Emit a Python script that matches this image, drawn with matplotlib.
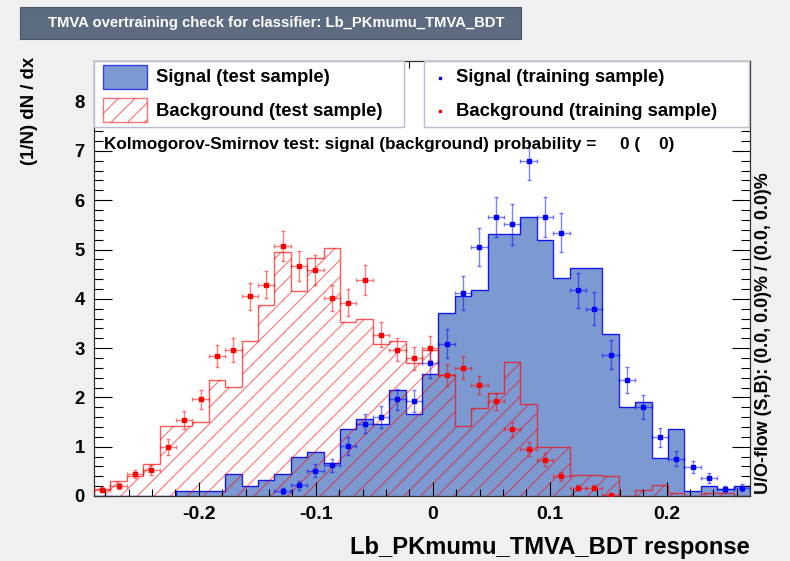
import numpy as np
import matplotlib
matplotlib.use("Agg")
import matplotlib.pyplot as plt
from matplotlib.patches import Rectangle
from matplotlib.ticker import MultipleLocator, FixedLocator, FuncFormatter

plt.rcParams['font.family'] = ['Liberation Sans', 'DejaVu Sans']
plt.rcParams['axes.unicode_minus'] = False
plt.rcParams['hatch.linewidth'] = 0.8

# ---------------- data ----------------
x_low, x_high, n_bins = -0.2895, 0.2712, 40

sig_test = [0, 0, 0, 0, 0, 0.10, 0.10, 0.10, 0.44, 0.21,
            0.33, 0.44, 0.79, 0.90, 0.66, 1.36, 1.57, 1.46, 2.15, 1.67,
            2.48, 3.72, 4.06, 4.17, 5.31, 5.31, 5.65, 5.19, 4.42, 4.63,
            4.63, 3.28, 1.81, 1.91, 0.78, 1.35, 0.10, 0.21, 0.15, 0.21]

bkg_test = [0.15, 0.30, 0.40, 0.64, 1.42, 1.42, 1.50, 2.36, 2.21, 3.15,
            3.88, 4.95, 4.15, 4.82, 5.03, 3.52, 3.59, 3.09, 3.15, 2.69,
            2.96, 2.45, 1.42, 1.79, 2.08, 2.72, 1.86, 1.00, 1.00, 0.42,
            0.42, 0.40, 0.0, 0.12, 0.22, 0.06, 0.0, 0.06, 0.06, 0.0]

sig_train = [0, 0, 0, 0, 0, 0, 0, 0, 0, 0,
             0, 0.10, 0.22, 0.51, 0.62, 1.01, 1.47, 1.60, 1.96, 1.93,
             2.70, 3.09, 4.12, 5.05, 5.66, 5.51, 6.79, 5.66, 5.34, 4.17,
             3.80, 2.87, 2.35, 1.81, 1.19, 0.76, 0.59, 0.37, 0.15, 0.17]
sig_train_err = [0, 0, 0, 0, 0, 0, 0, 0, 0, 0,
                 0, 0.06, 0.09, 0.13, 0.14, 0.18, 0.20, 0.22, 0.22, 0.22,
                 0.30, 0.30, 0.34, 0.39, 0.41, 0.41, 0.38, 0.41, 0.40, 0.36,
                 0.34, 0.29, 0.27, 0.24, 0.19, 0.16, 0.12, 0.10, 0.06, 0.07]

bkg_train = [0.13, 0.20, 0.44, 0.52, 1.00, 1.54, 1.96, 2.84, 2.96, 4.05,
             4.29, 5.07, 4.66, 4.59, 4.02, 3.92, 4.38, 3.27, 2.97, 2.79,
             3.00, 2.46, 2.60, 2.25, 1.92, 1.35, 0.96, 0.74, 0.40, 0.17,
             0.17, 0.02, 0, 0, 0, 0, 0, 0, 0, 0]
bkg_train_err = [0.05, 0.06, 0.08, 0.10, 0.16, 0.18, 0.20, 0.23, 0.24, 0.28,
                 0.28, 0.31, 0.30, 0.30, 0.27, 0.27, 0.30, 0.25, 0.24, 0.23,
                 0.25, 0.22, 0.23, 0.18, 0.17, 0.16, 0.14, 0.13, 0.09, 0.05,
                 0.05, 0.02, 0, 0, 0, 0, 0, 0, 0, 0]

x_major_ticks = [-0.2, -0.1, 0.0, 0.1, 0.2]
y_major_ticks = [0, 1, 2, 3, 4, 5, 6, 7, 8]

title_text = "TMVA overtraining check for classifier: Lb_PKmumu_TMVA_BDT"
xlabel_text = "Lb_PKmumu_TMVA_BDT response"
ylabel_text = "(1/N) dN / dx"
ks_text = "Kolmogorov-Smirnov test: signal (background) probability =     0 (    0)"
uo_text = "U/O-flow (S,B): (0.0, 0.0)% / (0.0, 0.0)%"
leg_labels = ["Signal (test sample)", "Background (test sample)",
              "Signal (training sample)", "Background (training sample)"]

# ---------------- figure ----------------
W, H = 790, 561
fig = plt.figure(figsize=(W / 100, H / 100), dpi=100, facecolor='#f0f0f0')

def fx(px):
    return px / W

def fy(py):
    return 1 - py / H

ax_l, ax_r, ax_t, ax_b = 94, 750, 60.7, 496
ax = fig.add_axes([fx(ax_l), fy(ax_b), fx(ax_r - ax_l), (ax_b - ax_t) / H])
ax.set_facecolor('white')

edges = np.linspace(x_low, x_high, n_bins + 1)
centers = 0.5 * (edges[:-1] + edges[1:])
half = 0.5 * (edges[1] - edges[0])

sig_fill = '#7d99d1'
sig_line = (0, 0, 0.93, 0.85)
red_hatch = (1, 0, 0, 0.55)

ax.stairs(sig_test, edges, fill=True, facecolor=sig_fill, edgecolor='none', zorder=1)
ax.stairs(sig_test, edges, color=sig_line, lw=1.0, zorder=1.1)
ax.stairs(bkg_test, edges, fill=True, facecolor='none', edgecolor=red_hatch,
          hatch='//', lw=0, zorder=1.2)
ax.stairs(bkg_test, edges, color=(1, 0, 0, 0.65), lw=1.0, zorder=1.3)

st = np.array(sig_train); ste = np.array(sig_train_err)
bt = np.array(bkg_train); bte = np.array(bkg_train_err)
ms = st > 0
mb = bt > 0
ax.errorbar(centers[ms], st[ms], yerr=ste[ms], xerr=half, fmt='s', ms=2.6,
            color='#0000ff', ecolor=(0, 0, 1, 0.5), elinewidth=1, capsize=1.5,
            capthick=1, zorder=3)
ax.errorbar(centers[mb], bt[mb], yerr=bte[mb], xerr=half, fmt='s', ms=2.6,
            color='#ff0000', ecolor=(1, 0, 0, 0.5), elinewidth=1, capsize=1.5,
            capthick=1, zorder=3)

ax.set_xlim(x_low, x_high)
ax.set_ylim(0, 8.83)
ax.xaxis.set_major_locator(FixedLocator(x_major_ticks))
ax.xaxis.set_minor_locator(MultipleLocator(0.02))
ax.yaxis.set_major_locator(FixedLocator(y_major_ticks))
ax.yaxis.set_minor_locator(MultipleLocator(0.2))

def fmt(v, pos):
    if abs(v) < 1e-9:
        return '0'
    return '%.1f' % v
ax.xaxis.set_major_formatter(FuncFormatter(fmt))

ax.tick_params(axis='both', which='both', direction='in', top=True, right=True,
               color='black', width=0.8)
ax.tick_params(axis='x', which='major', length=10, pad=7, labelsize=14)
ax.tick_params(axis='x', which='minor', length=5)
ax.tick_params(axis='y', which='major', length=13, pad=6.5, labelsize=13.3)
ax.tick_params(axis='y', which='minor', length=6.5)
for lab in ax.get_xticklabels() + ax.get_yticklabels():
    lab.set_fontweight('bold')
for sp in ax.spines.values():
    sp.set_linewidth(0.9)
    sp.set_color('#333333')

# axis titles
fig.text(fx(ax_r), fy(554), xlabel_text, ha='right', va='baseline',
         fontsize=17.1, fontweight='bold')
fig.text(fx(29), fy(57), ylabel_text, ha='center', va='top', rotation=90,
         fontsize=13.4, fontweight='bold')
fig.text(fx(764), fy(494), uo_text, ha='center', va='bottom', rotation=90,
         fontsize=12.9, fontweight='bold')

# title box
fig.patches.append(Rectangle((fx(20), fy(39)), fx(501), 32 / H, transform=fig.transFigure,
                             facecolor='#5c6b80', edgecolor='#4a5566', lw=0.8))
fig.text(fx(48), fy(23), title_text, ha='left', va='center', color='white',
         fontsize=10.7, fontweight='bold')

# legends (drawn in figure pixel space)
def frect(x0, y0, x1, y1, **kw):
    r = Rectangle((fx(x0), fy(y1)), fx(x1 - x0), (y1 - y0) / H,
                  transform=fig.transFigure, **kw)
    fig.patches.append(r)
    return r

frect(94, 61, 404, 127, facecolor='white', edgecolor='#b8bccc', lw=1, zorder=5)
frect(424, 61, 749, 127, facecolor='white', edgecolor='#b8bccc', lw=1, zorder=5)
frect(103, 65, 147, 89, facecolor=sig_fill, edgecolor=(0, 0, 0.93, 0.7), lw=1, zorder=6)
frect(103, 98, 147, 122, facecolor='white', edgecolor=(1, 0, 0, 0.55), lw=1,
      hatch='//', zorder=6)

leg_fs = 13.3
for lbl, (xp, yp) in zip(leg_labels, [(156, 78), (156, 111), (456, 78), (456, 111)]):
    fig.text(fx(xp), fy(yp), lbl, ha='left', va='center', fontsize=leg_fs,
             fontweight='bold', zorder=7)
fig.lines.append(plt.Line2D([fx(440)], [fy(78)], marker='s', ms=1.8, color='#0000ff',
                            transform=fig.transFigure, zorder=7))
fig.lines.append(plt.Line2D([fx(440)], [fy(111)], marker='s', ms=1.8, color='#ff0000',
                            transform=fig.transFigure, zorder=7))

fig.text(fx(104), fy(144), ks_text, ha='left', va='center', fontsize=12.3,
         fontweight='bold', zorder=7)

fig.savefig('out.png', dpi=100, facecolor=fig.get_facecolor())
